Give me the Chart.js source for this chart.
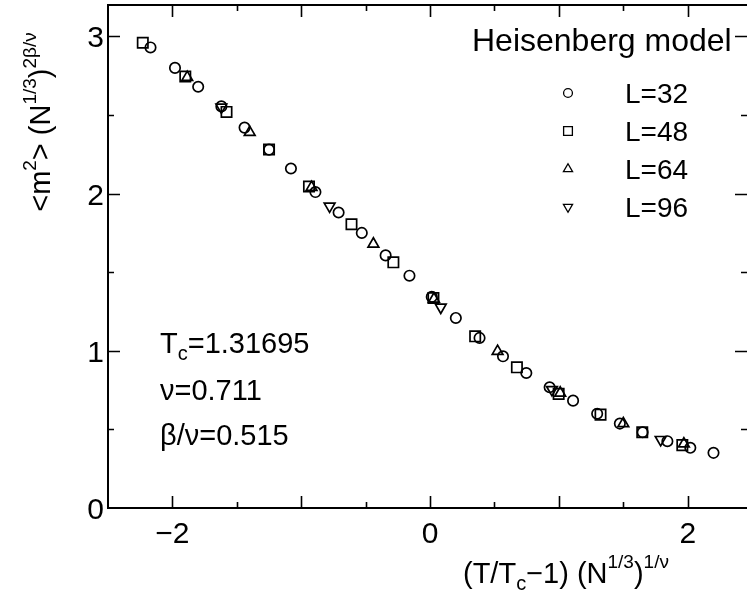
<!DOCTYPE html>
<html>
<head>
<meta charset="utf-8">
<script src="https://cdn.jsdelivr.net/npm/chart.js@4.4.1/dist/chart.umd.min.js"></script>
<style>
  html, body { margin: 0; padding: 0; background: #fff; }
  canvas { display: block; }
</style>
</head>
<body>
<canvas id="chart" width="747" height="593"></canvas>
<script>
// Data: x = (T/Tc-1)(N^1/3)^(1/nu), y = <m^2>(N^1/3)^(2beta/nu)
const l32X = [-2.17, -1.98, -1.80, -1.62, -1.44, -1.25, -1.08, -0.89, -0.71, -0.53, -0.345, -0.16,
              0.013, 0.20, 0.384, 0.566, 0.747, 0.928, 1.11, 1.297, 1.473, 1.65, 1.842, 2.02, 2.20];
const l32Y = [2.93, 2.80, 2.68, 2.555, 2.42, 2.28, 2.16, 2.01, 1.88, 1.75, 1.607, 1.478,
              1.343, 1.209, 1.082, 0.965, 0.859, 0.768, 0.683, 0.60, 0.537, 0.482, 0.425, 0.383, 0.351];

const l48X = [-2.23, -1.90, -1.58, -1.25, -0.94, -0.61, -0.285, 0.026, 0.35, 0.674, 0.998, 1.323, 1.647, 1.958];
const l48Y = [2.96, 2.745, 2.52, 2.28, 2.045, 1.805, 1.563, 1.336, 1.092, 0.895, 0.726, 0.594, 0.482, 0.40];

const l64X = [-1.885, -1.40, -0.92, -0.44, 0.03, 0.524, 1.01, 1.50, 1.97];
const l64Y = [2.74, 2.39, 2.04, 1.68, 1.33, 0.997, 0.732, 0.537, 0.408];

const l96X = [-1.62, -0.78, 0.083, 0.946, 1.79];
const l96Y = [2.55, 1.92, 1.277, 0.753, 0.435];

const seriesLabels = ['L=32', 'L=48', 'L=64', 'L=96'];
const legendTitle = 'Heisenberg model';
const notes = ['Tc=1.31695', 'ν=0.711', 'β/ν=0.515'];
const xTickValues = [-2, 0, 2];
const yTickValues = [0, 1, 2, 3];

const FONT = '"Liberation Sans", Arial, Helvetica, sans-serif';

function pts(xs, ys) {
  return xs.map((x, i) => ({ x: x, y: ys[i] }));
}

// draw a run of text pieces (sub/superscripts) left to right
function drawRich(ctx, parts, x, y) {
  parts.forEach(p => {
    ctx.font = p.size + 'px ' + FONT;
    ctx.fillText(p.t, x, y + (p.dy || 0));
    x += ctx.measureText(p.t).width;
  });
  return x;
}
function richWidth(ctx, parts) {
  let w = 0;
  parts.forEach(p => { ctx.font = p.size + 'px ' + FONT; w += ctx.measureText(p.t).width; });
  return w;
}

function marker(ctx, style, r, rot, x, y) {
  ctx.beginPath();
  if (style === 'circle') {
    ctx.arc(x, y, r, 0, Math.PI * 2);
  } else if (style === 'rect') {
    const s = r * Math.SQRT1_2;
    ctx.rect(x - s, y - s, 2 * s, 2 * s);
  } else {
    let a = rot * Math.PI / 180;
    ctx.moveTo(x + Math.sin(a) * r, y - Math.cos(a) * r);
    a += 2 * Math.PI / 3;
    ctx.lineTo(x + Math.sin(a) * r, y - Math.cos(a) * r);
    a += 2 * Math.PI / 3;
    ctx.lineTo(x + Math.sin(a) * r, y - Math.cos(a) * r);
    ctx.closePath();
  }
  ctx.stroke();
}

const framePlugin = {
  id: 'frame',
  afterDraw(chart) {
    const ctx = chart.ctx;
    const a = chart.chartArea;
    const xs = chart.scales.x, ys = chart.scales.y;
    ctx.save();
    ctx.strokeStyle = '#000';
    ctx.fillStyle = '#000';
    ctx.lineWidth = 2;

    // frame (right edge falls off the picture)
    ctx.beginPath();
    ctx.moveTo(a.right + 2, a.top);
    ctx.lineTo(a.left, a.top);
    ctx.lineTo(a.left, a.bottom);
    ctx.lineTo(a.right + 2, a.bottom);
    ctx.stroke();

    // inward ticks, major every 1, minor every 0.5
    ctx.lineWidth = 1.6;
    ctx.beginPath();
    for (let k = -4; k <= 4; k++) {
      const v = k * 0.5;
      const px = Math.round(xs.getPixelForValue(v)) + 0.5;
      const len = k % 2 === 0 ? 12 : 6;
      ctx.moveTo(px, a.bottom); ctx.lineTo(px, a.bottom - len);
      ctx.moveTo(px, a.top); ctx.lineTo(px, a.top + len);
    }
    for (let k = 1; k <= 6; k++) {
      const v = k * 0.5;
      const py = Math.round(ys.getPixelForValue(v)) + 0.5;
      const len = k % 2 === 0 ? 12 : 6;
      ctx.moveTo(a.left, py); ctx.lineTo(a.left + len, py);
      ctx.moveTo(a.right, py); ctx.lineTo(a.right - len, py);
    }
    ctx.stroke();

    // tick labels
    ctx.font = '30px ' + FONT;
    ctx.textBaseline = 'alphabetic';
    ctx.textAlign = 'center';
    xTickValues.forEach(v => {
      const lab = v < 0 ? '\u2212' + Math.abs(v) : String(v);
      ctx.fillText(lab, xs.getPixelForValue(v), a.bottom + 35);
    });
    ctx.textAlign = 'right';
    yTickValues.forEach(v => {
      ctx.fillText(String(v), a.left - 4, ys.getPixelForValue(v) + 11);
    });

    // legend
    ctx.textAlign = 'left';
    ctx.font = '32px ' + FONT;
    ctx.fillText(legendTitle, 472, 51);
    ctx.lineWidth = 1.3;
    chart.data.datasets.forEach((ds, i) => {
      const cy = 93 + i * 38;
      marker(ctx, ds.pointStyle, ds.pointRadius * 0.85, ds.rotation || 0, 568, cy);
      ctx.font = '28px ' + FONT;
      ctx.fillText(ds.label, 625, cy + 10);
    });

    // fit parameters
    drawRich(ctx, [{ t: 'T', size: 29 }, { t: 'c', size: 20, dy: 7 }, { t: '=1.31695', size: 29 }], 160, 353);
    drawRich(ctx, [{ t: notes[1], size: 29 }], 160, 400);
    drawRich(ctx, [{ t: notes[2], size: 29 }], 160, 445);

    // x axis title
    drawRich(ctx, [
      { t: '(T/T', size: 29 }, { t: 'c', size: 20, dy: 7 }, { t: '\u22121) (N', size: 29 },
      { t: '1/3', size: 19, dy: -15 }, { t: ')', size: 29 }, { t: '1/ν', size: 19, dy: -15 }
    ], 463, 583);

    // y axis title (rotated)
    const yParts = [
      { t: '<m', size: 29 }, { t: '2', size: 19, dy: -14 }, { t: '> (N', size: 29 },
      { t: '1/3', size: 19, dy: -14 }, { t: ')', size: 29 }, { t: '2β/ν', size: 19, dy: -14 }
    ];
    ctx.translate(50, 122);
    ctx.rotate(-Math.PI / 2);
    drawRich(ctx, yParts, -richWidth(ctx, yParts) / 2, 0);
    ctx.restore();
  }
};

const common = { showLine: false, borderColor: '#000', backgroundColor: 'rgba(0,0,0,0)', borderWidth: 1.7 };

new Chart(document.getElementById('chart'), {
  type: 'scatter',
  data: {
    datasets: [
      Object.assign({ label: seriesLabels[0], data: pts(l32X, l32Y), pointStyle: 'circle', pointRadius: 5.2 }, common),
      Object.assign({ label: seriesLabels[1], data: pts(l48X, l48Y), pointStyle: 'rect', pointRadius: 7.3 }, common),
      Object.assign({ label: seriesLabels[2], data: pts(l64X, l64Y), pointStyle: 'triangle', pointRadius: 6.2 }, common),
      Object.assign({ label: seriesLabels[3], data: pts(l96X, l96Y), pointStyle: 'triangle', rotation: 180, pointRadius: 6.2 }, common)
    ]
  },
  options: {
    responsive: false,
    animation: false,
    devicePixelRatio: 1,
    layout: { autoPadding: false, padding: { top: 5, right: 0, left: 0, bottom: 0 } },
    plugins: { legend: { display: false }, tooltip: { enabled: false } },
    scales: {
      x: {
        type: 'linear', min: -2.5, max: 2.46,
        grid: { display: false, drawTicks: false },
        border: { display: false },
        ticks: { display: false },
        afterFit: s => { s.height = 85; }
      },
      y: {
        type: 'linear', min: 0, max: 3.2,
        grid: { display: false, drawTicks: false },
        border: { display: false },
        ticks: { display: false },
        afterFit: s => { s.width = 108; }
      }
    }
  },
  plugins: [framePlugin]
});
</script>
</body>
</html>
